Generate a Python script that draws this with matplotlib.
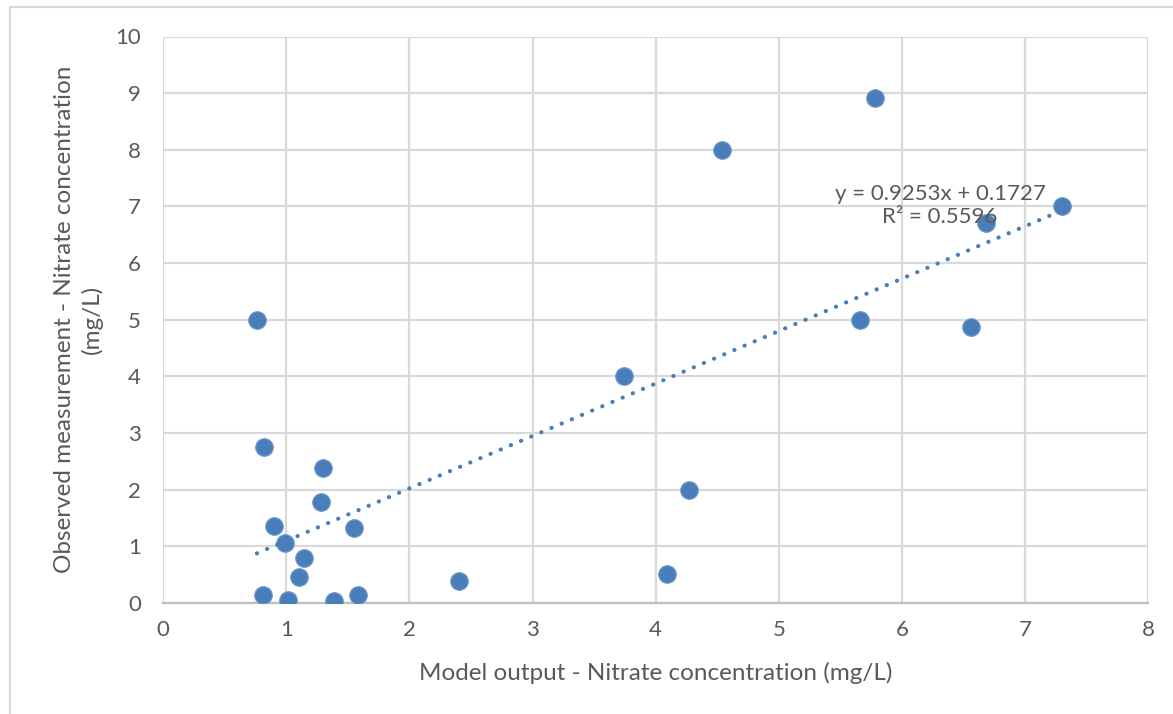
import matplotlib.pyplot as plt
from matplotlib.lines import Line2D

plt.rcParams['font.family'] = ['Lato', 'DejaVu Sans']

# Model output vs observed nitrate (mg/L)
model = [0.76, 0.82, 1.30, 1.28, 0.90, 0.99, 1.55, 1.14, 1.10, 0.81, 1.01, 1.39, 1.58,
         2.40, 3.74, 4.09, 4.27, 4.54, 5.78, 5.66, 6.56, 6.68, 7.30]
observed = [5.00, 2.76, 2.39, 1.78, 1.36, 1.06, 1.33, 0.80, 0.46, 0.14, 0.05, 0.04, 0.14,
            0.39, 4.00, 0.52, 1.99, 8.00, 8.91, 5.00, 4.88, 6.70, 7.01]
slope, intercept, r2 = 0.9253, 0.1727, 0.5596

blue = '#4a7ebb'
grey_text = '#595959'

fig = plt.figure(figsize=(11.73, 7.14), dpi=100)
ax = fig.add_axes([163.3 / 1173, 1 - 603 / 714, (1148 - 163.3) / 1173, (603 - 36.5) / 714])

ax.scatter(model, observed, s=160, color=blue, edgecolors='#6e98cc', linewidths=0.8, zorder=3)

x0, x1 = min(model), max(model)
ax.plot([x0, x1], [slope * x0 + intercept, slope * x1 + intercept],
        linestyle=(0, (0.05, 2.6)), color=blue, linewidth=3.0, dash_capstyle='round', zorder=4)

ax.text(6.31, 7.02, f'y = {slope}x + {intercept}\nR² = {r2}', ha='center', va='center',
        fontsize=16, color=grey_text, linespacing=1.2, zorder=5)

ax.set_xlim(0, 8)
ax.set_ylim(0, 10)
ax.set_xticks(range(0, 9))
ax.set_yticks(range(0, 11))
ax.grid(True, color='#d9d9d9', linewidth=1.6)
ax.set_axisbelow(True)
for side in ['top', 'right', 'left']:
    ax.spines[side].set_visible(False)
ax.spines['bottom'].set_color('#bfbfbf')
ax.spines['bottom'].set_linewidth(1.6)
ax.tick_params(length=0, labelsize=16, labelcolor=grey_text, pad=12)
ax.tick_params(axis='y', pad=16)

ax.set_xlabel('Model output - Nitrate concentration (mg/L)', fontsize=17.5, color=grey_text, labelpad=16)
ax.set_ylabel('Observed measurement - Nitrate concentration\n(mg/L)', fontsize=17.5, color=grey_text,
              labelpad=9, linespacing=1.3)

# chart frame
fig.add_artist(Line2D([10 / 1173, 1], [1 - 7 / 714, 1 - 7 / 714], color='#d9d9d9', linewidth=1.5))
fig.add_artist(Line2D([10 / 1173, 10 / 1173], [0, 1 - 7 / 714], color='#d9d9d9', linewidth=1.5))

fig.savefig('out.png', dpi=100)
